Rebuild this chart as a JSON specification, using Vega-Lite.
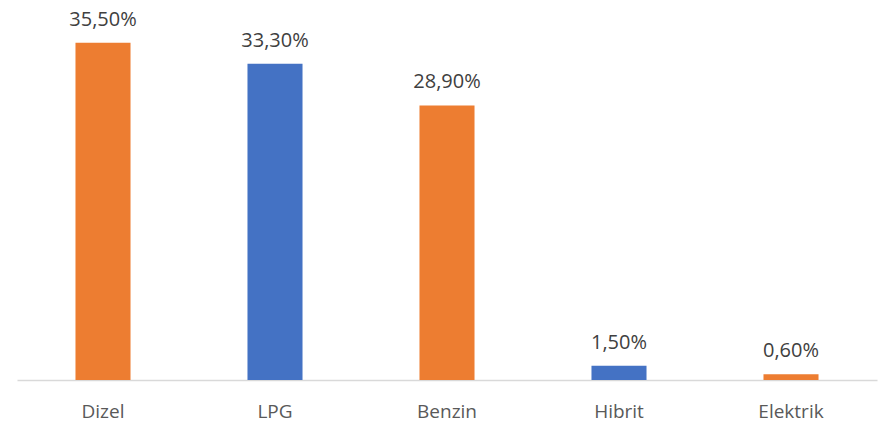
{
  "$schema": "https://vega.github.io/schema/vega-lite/v6.json",
  "width": 860,
  "height": 380,
  "autosize": {"type": "none"},
  "padding": {"left": 17, "top": 0, "right": 12, "bottom": 48},
  "config": {
    "view": {"stroke": null},
    "locale": {"number": {"decimal": ",", "thousands": ".", "grouping": [3], "currency": ["", "₺"]}},
    "font": "Open Sans"
  },
  "data": {
    "values": [
      {"yakit": "Dizel", "oran": 0.355},
      {"yakit": "LPG", "oran": 0.333},
      {"yakit": "Benzin", "oran": 0.289},
      {"yakit": "Hibrit", "oran": 0.015},
      {"yakit": "Elektrik", "oran": 0.006}
    ]
  },
  "encoding": {
    "x": {
      "field": "yakit",
      "type": "nominal",
      "sort": null,
      "title": null,
      "scale": {"paddingInner": 0.68, "paddingOuter": 0.34},
      "axis": {
        "labelAngle": 0,
        "labelFont": "Open Sans",
        "labelFontSize": 19,
        "labelColor": "#595959",
        "labelBaseline": "alphabetic",
        "labelPadding": 37,
        "ticks": false,
        "tickSize": 0,
        "domainColor": "#D9D9D9",
        "domainWidth": 1.5,
        "grid": false
      }
    },
    "y": {
      "field": "oran",
      "type": "quantitative",
      "scale": {"domain": [0, 0.4], "nice": false},
      "axis": null
    }
  },
  "layer": [
    {
      "mark": {"type": "bar"},
      "encoding": {
        "color": {
          "field": "yakit",
          "type": "nominal",
          "scale": {
            "domain": ["Dizel", "LPG", "Benzin", "Hibrit", "Elektrik"],
            "range": ["#ED7D31", "#4472C4", "#ED7D31", "#4472C4", "#ED7D31"]
          },
          "legend": null
        }
      }
    },
    {
      "mark": {"type": "text", "baseline": "alphabetic", "dy": -17, "fontSize": 20, "color": "#404040", "font": "Open Sans"},
      "encoding": {
        "text": {"field": "oran", "type": "quantitative", "format": ".2%"}
      }
    }
  ]
}
